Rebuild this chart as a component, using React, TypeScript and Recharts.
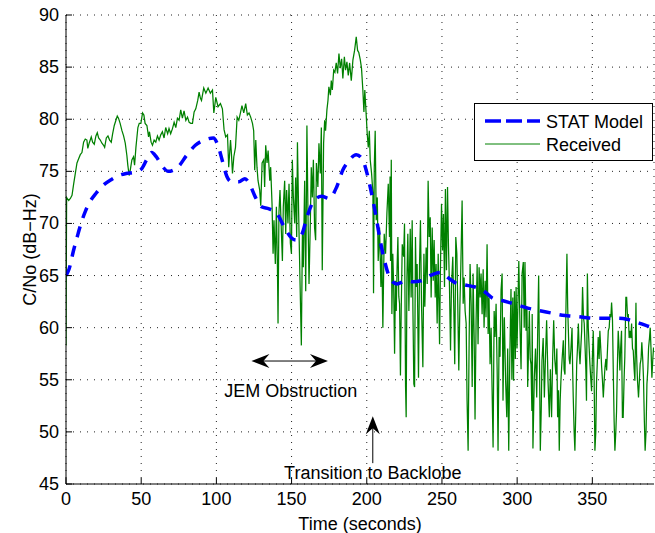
import React from 'react';
import { LineChart, Line, XAxis, YAxis, CartesianGrid, ReferenceLine, Legend, Label } from 'recharts';

const xTicks = [0, 50, 100, 150, 200, 250, 300, 350];
const yTicks = [45, 50, 55, 60, 65, 70, 75, 80, 85, 90];

// [time s, C/No dB-Hz]
const statModel: [number, number][] = [
  [0, 65], [2, 65.6], [5, 67.4], [8, 69], [10, 70], [13, 71.2], [16, 72.1], [20, 72.9], [25, 73.7],
  [30, 74.2], [35, 74.6], [40, 74.8], [45, 74.9], [50, 75.2], [54, 76.2], [57, 76.8], [60, 76.4],
  [64, 75.5], [68, 75], [71, 75.1], [75, 75.5], [80, 76.5], [86, 77.5], [92, 78], [98, 78.2],
  [101, 77.5], [104, 76], [107, 74.5], [110, 74], [115, 74], [119, 74.3], [122, 73.8], [126, 72.5],
  [130, 71.6], [135, 71.4], [140, 71], [145, 69.7], [150, 68.6], [153, 68.4], [157, 69], [160, 70.5],
  [165, 72.2], [170, 72.6], [175, 72.4], [180, 73.5], [184, 75.1], [188, 76], [193, 76.6], [197, 76.2],
  [200, 74.9], [203, 73], [206, 70.8], [209, 68.3], [212, 66.3], [216, 64.6], [220, 64.2], [226, 64.5],
  [231, 64.4], [236, 64.5], [242, 65], [249, 65.3], [254, 64.8], [259, 64.3], [265, 64.1], [272, 63.9],
  [278, 63.5], [284, 62.8], [290, 62.6], [295, 62.4], [302, 62.1], [309, 61.8], [316, 61.6], [323, 61.4],
  [330, 61.2], [337, 61.1], [344, 61], [351, 60.9], [358, 60.9], [366, 60.9], [373, 60.8], [380, 60.5],
  [386, 60.2], [391, 60],
];

const received: [number, number][] = [
  [0, 58.3], [0.4, 72.5], [1.8, 72.2], [2.9, 72.4], [4, 72.7], [5.1, 73.8], [6.2, 74.8], [7.3, 75.8], [8.4, 76.2],
  [9.5, 76.6], [10.6, 76.8], [11.7, 77.8], [12.8, 78.1], [13.9, 78], [14.5, 77.2], [15.4, 77.7], [16.8, 78.3],
  [17.7, 77.8], [18.8, 77.6], [19.9, 78.4], [20.8, 78.7], [21.7, 78.2], [22.8, 78], [23.9, 77.7], [25, 77.5],
  [25.7, 77.3], [26.8, 78.2], [27.9, 78.4], [29, 78], [30.1, 77.8], [31, 78.6], [32.1, 79.4], [33.2, 79.9],
  [34.1, 80.3], [34.9, 80.1], [36, 79.6], [37.2, 78.9], [38.3, 78.4], [39.4, 77.7], [40.5, 76.5], [41.1, 75.6],
  [42, 74.6], [42.7, 75.1], [43.8, 76.1], [44.9, 76.4], [45.6, 75.6], [46.5, 77.3], [47.8, 79.2], [48.7, 79.6],
  [49.8, 79.6], [50.9, 80.6], [51.8, 80.4], [52.6, 79.6], [53.8, 79.4], [54.9, 78.3], [55.5, 78.8], [56.6, 77.8],
  [57.5, 77.5], [58.6, 78], [59.7, 77.8], [60.8, 78.4], [61.9, 78], [63, 78.5], [64.1, 78.8], [65.2, 78.2],
  [66.3, 79.2], [67.6, 78.6], [68.5, 79.1], [69.6, 78.6], [70.8, 79.1], [71.9, 79.7], [73, 79.2], [74.1, 80.1],
  [75.2, 79.9], [76.3, 80.9], [77.4, 80.1], [78.5, 80.8], [79.7, 79.9], [80.8, 80.2], [81.9, 79.7], [83, 79.6],
  [84.1, 79.6], [85.2, 80.7], [86.3, 81], [87.6, 81.8], [88.5, 82.6], [89.4, 82], [90.1, 81.8], [91.6, 83],
  [93, 82.5], [94.5, 83], [96, 82.5], [97.4, 82.8], [98.3, 80.6], [99.6, 82.1], [101.1, 81.2], [102.7, 81.5],
  [104, 81], [105.1, 79], [106.2, 78.3], [107.4, 78.5], [108.2, 75.4], [109.4, 78], [110, 76.7], [110.7, 74.8],
  [111.6, 76.4], [112.7, 77.3], [113.8, 80.2], [114.9, 79.9], [116, 80.6], [117, 81.3], [118.2, 80.6],
  [119.5, 81.5], [120.6, 80.4], [121.7, 80.6], [122.8, 80.2], [124, 79.6], [124.8, 78.9], [125.5, 75.1],
  [126.2, 78], [127, 75.4], [127.7, 74.1], [128.8, 73.2], [129.5, 71.7], [130.4, 75.8], [131.5, 76.1],
  [132.1, 73.5], [132.8, 77.5], [133.7, 75.8], [134.4, 77], [135.5, 74.1], [136.1, 75.4], [137, 71.9],
  [137.7, 67.1], [138.3, 70.3], [139.2, 66.1], [139.9, 71.6], [140.6, 65.8], [141, 60.4], [141.6, 71],
  [142.3, 73.2], [143.2, 69.3], [143.9, 66.4], [144.5, 71.6], [145.4, 74.1], [146.1, 69], [146.7, 73.2],
  [147.6, 70], [148.3, 73.8], [149.2, 68.1], [149.9, 67.1], [150.5, 76.1], [151.2, 72.5], [152.1, 70],
  [152.7, 74.4], [153.4, 68.7], [153.9, 77.8], [154.7, 71], [155.6, 64.5], [156.5, 58.3], [157.2, 69],
  [157.8, 65.8], [158.7, 74.1], [159.4, 63.5], [160.2, 79.4], [160.9, 71], [161.6, 64.2], [162.5, 70.3],
  [163.1, 75.4], [163.8, 72.5], [164.5, 76.1], [165.3, 69.6], [166, 68.4], [166.5, 75.8], [167.5, 73.5],
  [168.2, 77.7], [169.1, 74.8], [169.8, 79.2], [170.4, 65.5], [171.3, 77.7], [172, 79.9], [172.6, 78.9],
  [173.5, 80.9], [174.2, 81.8], [174.8, 83.1], [175.8, 82.3], [176.4, 83.7], [177.1, 82.8], [178, 84.7],
  [178.8, 84.5], [179.7, 85.4], [180.6, 84.4], [181.5, 86.3], [182.4, 84.9], [183.3, 85.8], [184.1, 83.9],
  [185.1, 86], [185.9, 84.7], [186.8, 85.5], [187.7, 84.2], [188.6, 85.4], [189.7, 83.7], [190.8, 85.7],
  [191.9, 86.6], [193, 87.9], [193.9, 86.6], [194.7, 86.4], [195.7, 85.7], [196.5, 84.9], [197.4, 82.8],
  [198.1, 80.7], [198.7, 82.8], [199.7, 80.2], [200.3, 78.6], [201, 77.3], [201.7, 78.9], [202.3, 76.1],
  [203.2, 74.8], [204.1, 72.9], [204.5, 63.3], [205, 75.4], [205.6, 78.9], [206.3, 70.3], [207, 72.5],
  [207.6, 66.4], [208.5, 69.6], [209.4, 63.9], [210, 67.7], [210.7, 60], [211.6, 69], [212.5, 67.1],
  [213.4, 71], [214.3, 73.8], [215.1, 68.7], [215.5, 74.5], [215.8, 66.4], [216.3, 76.1], [216.7, 61.3],
  [217.3, 67.1], [217.9, 63.9], [218.5, 57.5], [219.1, 64.5], [219.6, 61.6], [220.2, 66], [220.7, 68.7],
  [221.3, 63], [221.8, 62.3], [222.4, 55.4], [222.9, 61.6], [223.6, 68], [224.5, 66.8], [225.1, 70],
  [225.8, 54.3], [226.2, 51.4], [226.7, 64.8], [227.3, 69], [228, 61.6], [228.9, 69.5], [229.5, 62.9],
  [230.2, 70.3], [230.7, 61.6], [231.3, 54.6], [231.8, 54.3], [232.4, 68.7], [232.9, 63.9], [233.5, 66.1],
  [234.4, 55.2], [235.1, 66.1], [235.7, 70.3], [236.4, 62.3], [237.3, 56.2], [238, 67.1], [238.6, 62],
  [239.5, 67.7], [240.2, 64.2], [240.8, 74.1], [241.5, 68.7], [242.2, 70.6], [242.8, 62.9], [243.5, 69.6],
  [244.2, 64.5], [244.8, 68.4], [245.5, 62.9], [246.1, 66.1], [246.8, 60.4], [247.5, 67.1], [247.9, 62.9],
  [248.4, 58.4], [249, 65.8], [249.7, 71.9], [250.4, 67.4], [251, 70.9], [251.7, 63.9], [252.3, 73.3],
  [253, 65.5], [253.7, 73.5], [254.3, 68], [255, 63.9], [255.7, 57.8], [256.3, 63.9], [257.2, 66.8],
  [257.9, 61.6], [258.5, 56.5], [259.2, 68.7], [259.9, 67.1], [260.5, 62.3], [261.2, 55.9], [261.9, 62],
  [262.5, 65.5], [263.4, 72.2], [264.1, 62.3], [264.7, 64.8], [265.4, 61.6], [266.1, 60.4], [266.7, 53],
  [267.4, 48.2], [268.1, 59.1], [268.7, 66.1], [269.4, 62.3], [270.1, 54.3], [270.7, 65.2], [271.4, 59.1],
  [272, 51.2], [272.7, 60.7], [273.4, 66.1], [274, 58.4], [274.7, 65.8], [275.4, 62.9], [276, 65.2],
  [276.7, 61.3], [277.4, 65.6], [278, 60], [278.7, 64.5], [279.3, 61], [280, 68], [280.7, 59.4], [281.3, 62.9],
  [282, 56.5], [282.7, 60], [283.3, 54.3], [284, 48.5], [284.7, 61.6], [285.3, 59.1], [286, 62.3],
  [286.7, 55.9], [287.3, 48.2], [288, 59.1], [288.6, 57.2], [289.3, 63.6], [290, 65.2], [290.6, 53],
  [291.3, 60.7], [291.5, 61], [292.3, 55], [293.1, 51.4], [293.7, 58], [294.4, 48.2], [295.1, 57],
  [295.9, 63.7], [296.5, 55], [297.1, 62.9], [297.6, 54.9], [298.2, 63.5], [298.8, 57], [299.3, 63.9],
  [299.9, 58], [300.4, 61.6], [301.1, 66.4], [301.9, 60], [302.6, 56], [303.3, 65.2], [304.1, 66.3],
  [304.7, 60], [305.2, 66.3], [305.9, 59.7], [306.5, 62], [307, 54.3], [307.6, 58], [308.1, 61.6],
  [308.7, 57], [309.2, 56.5], [309.8, 52], [310, 61.3], [310.5, 48.4], [311.4, 55.2], [312.2, 58],
  [313, 53.3], [313.7, 60], [314.3, 65], [314.9, 56], [315.4, 48.2], [316, 52], [316.5, 56.8], [317.3, 59],
  [318.1, 53.3], [318.8, 57], [319.6, 60.7], [320.5, 55], [321.4, 51.4], [322.1, 56], [322.9, 51.4],
  [323.6, 57], [324.3, 60.7], [325, 57], [325.8, 55.5], [326.4, 58], [326.9, 51.4], [327.5, 54], [328, 48.2],
  [328.6, 53], [329.1, 54.9], [329.9, 57], [330.7, 58.8], [331.2, 56], [331.8, 55.5], [332.5, 62.3],
  [333.1, 67.1], [333.6, 62], [334, 60], [334.6, 57], [335.1, 56.5], [335.8, 58], [336.5, 60], [336.9, 56],
  [337.3, 53.3], [337.9, 50], [338.4, 48.2], [339, 52], [339.6, 56.5], [340.1, 58], [340.7, 60.4],
  [341.2, 58], [341.8, 56.5], [342.3, 58], [342.9, 59.7], [343.5, 63.9], [344.1, 61], [344.6, 60.4],
  [345.2, 58], [345.7, 55.9], [346.1, 53], [346.7, 65.2], [347.3, 60], [347.9, 58], [348.4, 56.5],
  [349, 55], [349.5, 53.9], [350, 57], [350.6, 59.7], [351.2, 55], [351.7, 48.2], [352.3, 50], [352.8, 54.9],
  [353.4, 57], [353.9, 59.1], [354.5, 57], [355, 59.7], [355.6, 58], [356.2, 56.2], [356.7, 55],
  [357.3, 53.3], [357.9, 55], [358.4, 56.2], [359, 57], [359.5, 55.9], [360.1, 58], [360.6, 59.7],
  [361.2, 60], [361.7, 61.3], [362.3, 61], [362.8, 62.4], [363.4, 60.7], [363.9, 56], [364.5, 51],
  [365, 48.2], [365.6, 50], [366.1, 52], [366.6, 56], [367.2, 59.7], [367.8, 58], [368.3, 55.9],
  [368.8, 58], [369.4, 59.7], [370, 51.4], [370.5, 51.4], [371.1, 55], [371.6, 57.2], [372.3, 62.9],
  [372.8, 62.9], [373.4, 61], [373.9, 61.3], [374.5, 59], [375, 59.7], [375.6, 59], [376.1, 60.4],
  [376.7, 58], [377.2, 57.8], [377.8, 56], [378.3, 54.9], [379, 62.4], [379.4, 57.5], [380, 55],
  [380.7, 53.3], [381.3, 55], [381.8, 56.5], [382.4, 57], [382.9, 58.6], [383.5, 57], [384, 55.2],
  [384.6, 51], [385.1, 48.2], [385.7, 50], [386.3, 54.6], [386.9, 56], [387.4, 58.1], [388, 59],
  [388.5, 60], [389, 58], [389.6, 55.2], [390.2, 57], [390.7, 58.1],
];

// annotation anchors in data units
const jemArrow = [{ x: 123.3, y: 56.8 }, { x: 174.2, y: 56.8 }];
const backlobeArrow = [{ x: 204, y: 47 }, { x: 204, y: 51.5 }];

const modelData = statModel.map(([t, v]) => ({ t, model: v }));
const receivedData = received.map(([t, v]) => ({ t, received: v }));

const FONT = 18;

const XTick = ({ x, y, payload }: any) => (
  <g>
    <line x1={x} y1={y} x2={x} y2={y - 6} stroke="#000" />
    <text x={x} y={y + 21} textAnchor="middle" fontSize={FONT} fill="#000">{payload.value}</text>
  </g>
);

const YTick = ({ x, y, payload }: any) => (
  <g>
    <line x1={x} y1={y} x2={x + 6} y2={y} stroke="#000" />
    <text x={x - 7} y={y + 6} textAnchor="end" fontSize={FONT} fill="#000">{payload.value}</text>
  </g>
);

// stealth-style arrow head pointing toward (tx,ty) along (dx,dy)
const head = (tx: number, ty: number, dx: number, dy: number) => {
  const len = 18, half = 7, notch = 12;
  const px = -dy, py = dx;
  const pts = [
    [tx, ty],
    [tx - dx * len + px * half, ty - dy * len + py * half],
    [tx - dx * notch, ty - dy * notch],
    [tx - dx * len - px * half, ty - dy * len - py * half],
  ];
  return <polygon points={pts.map((p) => p.join(',')).join(' ')} fill="#000" />;
};

const JemShape = (props: any) => {
  const { x1, y1, x2, y2 } = props;
  return (
    <g>
      <line x1={x1 + 10} y1={y1} x2={x2 - 10} y2={y2} stroke="#000" strokeWidth={1} />
      {head(x1, y1, -1, 0)}
      {head(x2, y2, 1, 0)}
      <text x={(x1 + x2) / 2 + 1} y={y1 + 36} textAnchor="middle" fontSize={FONT} fill="#000">JEM Obstruction</text>
    </g>
  );
};

const BacklobeShape = (props: any) => {
  const { x1, y1, x2, y2 } = props;
  // y1 = tail (bottom), y2 = tip (top)
  return (
    <g>
      <line x1={x1} y1={y1} x2={x2} y2={y2 + 10} stroke="#000" strokeWidth={1} />
      {head(x2, y2, 0, -1)}
      <text x={x1} y={y1 + 16} textAnchor="middle" fontSize={FONT} fill="#000">Transition to Backlobe</text>
    </g>
  );
};

const LegendBox = () => (
  <svg width={180} height={59} style={{ display: 'block' }}>
    <rect x={0.5} y={0.5} width={178} height={57} fill="#fff" stroke="#000" strokeWidth={1} />
    <line x1={11} y1={18} x2={66} y2={18} stroke="#0000ff" strokeWidth={3.5} strokeDasharray="16 5" />
    <text x={72} y={24.5} fontSize={FONT} fill="#000">STAT Model</text>
    <line x1={11} y1={41} x2={66} y2={41} stroke="#008000" strokeWidth={1} />
    <text x={72} y={47.5} fontSize={FONT} fill="#000">Received</text>
  </svg>
);

export default function App() {
  return (
    <div style={{ width: 655, height: 533, background: '#fff', fontFamily: '"Liberation Sans", Arial, sans-serif', position: 'relative' }}>
      <style>{'body{margin:0}'}</style>
      <LineChart width={655} height={533} margin={{ top: 15, right: 1, bottom: 0, left: 0 }}>
        <CartesianGrid stroke="#222" strokeDasharray="1 6" />
        <XAxis
          dataKey="t"
          type="number"
          domain={[0, 391]}
          ticks={xTicks}
          interval={0}
          height={49}
          tickSize={0}
          tickMargin={0}
          tickLine={false}
          tick={<XTick />}
          axisLine={{ stroke: '#000' }}
          allowDataOverflow
        >
          <Label value="Time (seconds)" position="insideBottom" offset={3} fontSize={FONT} fill="#000" />
        </XAxis>
        <XAxis
          xAxisId="top"
          orientation="top"
          type="number"
          domain={[0, 391]}
          ticks={xTicks}
          interval={0}
          height={0}
          mirror
          tick={false}
          tickSize={6}
          tickLine={{ stroke: '#000' }}
          axisLine={{ stroke: '#000' }}
        />
        <YAxis
          type="number"
          domain={[45, 90]}
          ticks={yTicks}
          interval={0}
          width={66}
          tickSize={0}
          tickMargin={0}
          tickLine={false}
          tick={<YTick />}
          axisLine={{ stroke: '#000' }}
          allowDataOverflow
        >
          <Label value="C/No (dB−Hz)" position="center" angle={-90} dx={-3} fontSize={FONT} fill="#000" />
        </YAxis>
        <YAxis
          yAxisId="right"
          orientation="right"
          type="number"
          domain={[45, 90]}
          ticks={yTicks}
          interval={0}
          width={0}
          mirror
          tick={false}
          tickSize={6}
          tickLine={{ stroke: '#000' }}
          axisLine={{ stroke: '#000' }}
        />
        <Line
          data={receivedData}
          dataKey="received"
          type="linear"
          stroke="#008000"
          strokeWidth={1.25}
          dot={false}
          activeDot={false}
          isAnimationActive={false}
        />
        <Line
          data={modelData}
          dataKey="model"
          type="monotone"
          stroke="#0000ff"
          strokeWidth={3.5}
          strokeDasharray="11 9"
          dot={false}
          activeDot={false}
          isAnimationActive={false}
        />
        <ReferenceLine segment={jemArrow} shape={<JemShape />} ifOverflow="visible" />
        <ReferenceLine segment={backlobeArrow} shape={<BacklobeShape />} ifOverflow="visible" />
        <Legend
          layout="horizontal"
          verticalAlign="middle"
          align="center"
          content={<LegendBox />}
          wrapperStyle={{ position: 'absolute', left: 474, top: 103, width: 180, height: 59 }}
        />
      </LineChart>
    </div>
  );
}
